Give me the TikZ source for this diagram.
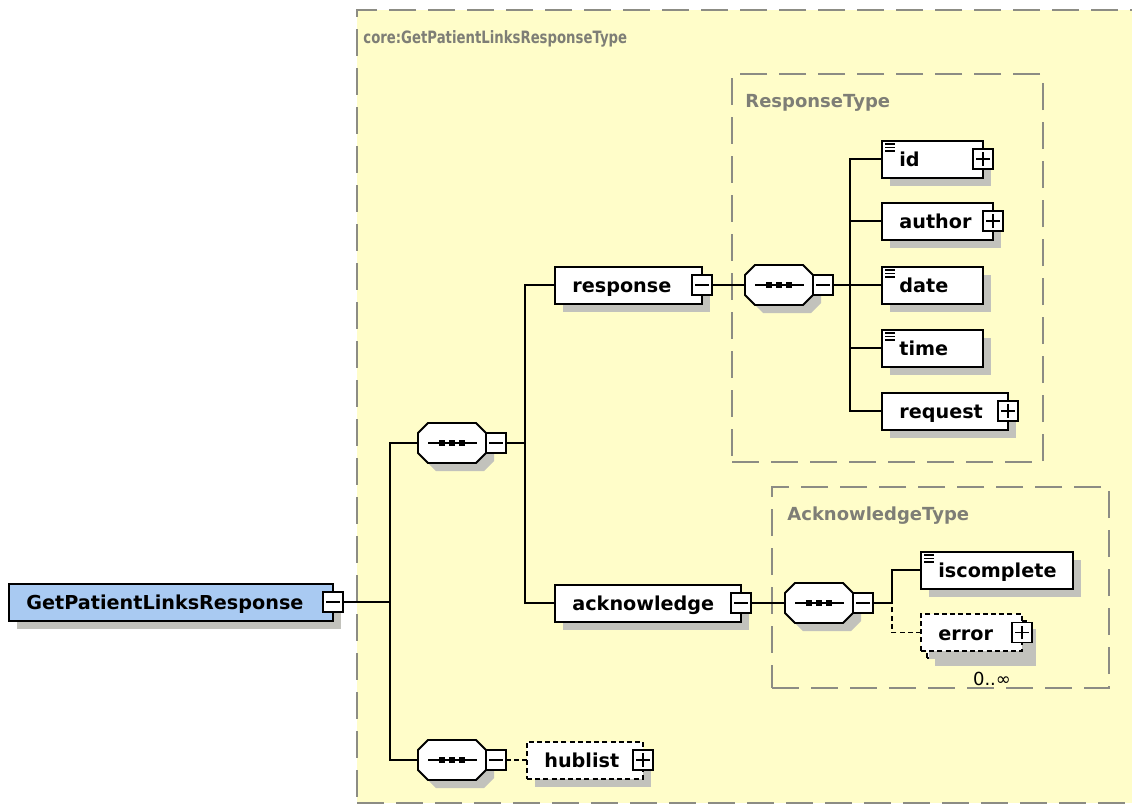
\documentclass[tikz,border=0pt]{standalone}
\usepackage{fontspec}
\setmainfont{DejaVu Sans}
\usepackage{graphicx}
\definecolor{paper}{HTML}{FFFDC9}
\definecolor{shadowc}{HTML}{C2C2BC}
\definecolor{framegray}{HTML}{8C8C84}
\definecolor{titlegray}{HTML}{7E7E76}
\definecolor{rootblue}{HTML}{A9CAF2}
\pgfdeclarelayer{back}
\pgfdeclarelayer{wires}
\pgfsetlayers{back,wires,main}

% element box: [extra style]{name}{left}{right}{cy}{label}
\newcommand\elem[6][]{%
  \fill[shadowc] (#3+8,#5-10.5) rectangle (#4+8,#5+26.5);
  \node[ebox,#1,minimum width={(#4-#3)*0.5pt},anchor=west] (#2) at (#3,#5) {};
  \node[lbl,anchor=base west] (#2-t) at (#3+17,#5+7.5) {#6};
}
% simple-type marker in the upper left corner of a box
\newcommand\simpleicon[1]{%
  \foreach \k in {0,1,2}{\draw[line width=0.7pt] ([shift={(3,3.5+3.5*\k)}]#1.north west) -- ++(10,0);}
}
% sequence compositor: {name}{cx}{cy}
\newcommand\seqc[3]{%
  \fill[shadowc,shift={(#2+8,#3+8)},octo];
  \node[seqbox] (#1) at (#2,#3) {};
  \draw[line width=0.9pt,fill=white,shift={(#2,#3)},octo];
  \draw[line width=0.9pt] (#2-24,#3) -- (#2+25,#3);
  \foreach \d in {-10,0,10}{\fill (#2+\d-3,#3-3) rectangle (#2+\d+3,#3+3);}
  \node[minusx] (#1-x) at (#2+44,#3) {};
}

\begin{document}
\begin{tikzpicture}[x=0.5pt,y=-0.5pt,
  ebox/.style={draw,line width=1pt,fill=white,inner sep=0,outer sep=0,minimum height=18.5pt},
  dbox/.style={dash pattern=on 2.5pt off 1.6pt},
  lbl/.style={font=\bfseries\fontsize{9.6}{11}\selectfont,inner sep=0},
  ttl/.style={font=\bfseries\fontsize{9}{11}\selectfont,text=titlegray,inner sep=0,anchor=base west},
  frame/.style={draw=framegray,line width=0.8pt,dash pattern=on 13.5pt off 6pt,inner sep=0,outer sep=0},
  conn/.style={line width=0.85pt},
  dconn/.style={conn,dash pattern=on 2.5pt off 1.6pt},
  expbase/.style={draw,fill=white,line width=0.6pt,minimum size=10pt,inner sep=0,outer sep=0},
  minusx/.style={expbase,path picture={\draw[line width=0.6pt]
      ([xshift=1.6pt]path picture bounding box.west) -- ([xshift=-1.6pt]path picture bounding box.east);}},
  plusx/.style={expbase,path picture={\draw[line width=0.6pt]
      ([xshift=1.6pt]path picture bounding box.west) -- ([xshift=-1.6pt]path picture bounding box.east)
      ([yshift=1.6pt]path picture bounding box.south) -- ([yshift=-1.6pt]path picture bounding box.north);}},
  seqbox/.style={inner sep=0,outer sep=0,minimum width=34pt,minimum height=20pt},
  octo/.style={insert path={(-34,-10) -- (-24,-20) -- (24,-20) -- (34,-10) -- (34,10) -- (24,20) -- (-24,20) -- (-34,10) -- cycle}},
]
\useasboundingbox (0,0) rectangle (1132,809);

% complex type frames
\begin{pgfonlayer}{back}
  \fill[white] (0,0) rectangle (1132,809);
  \node[frame,fill=paper,anchor=north west,minimum width={(1160-357)*0.5pt},minimum height={(803-10)*0.5pt}] (core) at (357,10) {};
  \node[frame,anchor=north west,minimum width={(1043-732)*0.5pt},minimum height={(462-74)*0.5pt}] (rtype) at (732,74) {};
  \node[frame,anchor=north west,minimum width={(1109-772)*0.5pt},minimum height={(688-487)*0.5pt}] (atype) at (772,487) {};
\end{pgfonlayer}
\node[ttl,font=\bfseries\fontsize{8.5}{10}\selectfont] (core-t) at (363,43) {\scalebox{0.78}[1]{core:GetPatientLinksResponseType}};
\node[ttl] (rtype-t) at (745,107) {ResponseType};
\node[ttl] (atype-t) at (787,520) {AcknowledgeType};

% root element
\elem[fill=rootblue]{root}{9}{333}{602}{GetPatientLinksResponse}
\node[minusx] (root-x) at (333,602) {};

% top-level sequences
\seqc{s1}{452}{443}
\seqc{s4}{452}{760}

% response branch
\elem{resp}{555}{702}{285}{response}
\node[minusx] (resp-x) at (702,285) {};
\seqc{s2}{779}{285}
\elem{id}{882}{983}{159}{id}
\simpleicon{id}
\node[plusx] (id-x) at (983,159) {};
\elem{author}{882}{993}{221}{author}
\node[plusx] (author-x) at (993,221) {};
\elem{date}{882}{983}{285}{date}
\simpleicon{date}
\elem{time}{882}{983}{348}{time}
\simpleicon{time}
\elem{request}{882}{1008}{411}{request}
\node[plusx] (request-x) at (1008,411) {};

% acknowledge branch
\elem{ack}{555}{741}{603}{acknowledge}
\node[minusx] (ack-x) at (741,603) {};
\seqc{s3}{819}{603}
\elem{isc}{921}{1073}{570}{iscomplete}
\simpleicon{isc}
% repeating element: two stacked dashed boxes
\fill[shadowc] (935,629) rectangle (1036,666);
\node[ebox,dbox,anchor=north west,minimum width={(1028-927)*0.5pt}] (err-b) at (927,621) {};
\elem[dbox]{err}{921}{1022}{632.5}{error}
\node[plusx] (err-x) at (1022,632.5) {};
\node[inner sep=0,anchor=base,font=\fontsize{9}{11}\selectfont] (err-m) at (992,685) {0..∞};

% optional hublist
\fill[shadowc] (535,749.5) rectangle (651,786.5);
\node[ebox,dbox,anchor=west,minimum width={(643-527)*0.5pt}] (hub) at (527,760) {};
\node[lbl,anchor=base west] (hub-t) at (544,767.5) {hublist};
\node[plusx] (hub-x) at (643,760) {};

% connectors
\begin{pgfonlayer}{wires}
  \coordinate (tr) at (390,602);
  \draw[conn] (root-x.east) -- (tr);
  \draw[conn] (s1.west) -| (tr);
  \draw[conn] (s4.west) -| (tr);
  \coordinate (ja) at (525,443);
  \draw[conn] (s1-x.east) -- (ja);
  \draw[conn] (resp.west) -| (ja);
  \draw[conn] (ack.west) -| (ja);
  \draw[conn] (resp-x.east) -- (s2.west);
  \coordinate (jb) at (850,285);
  \draw[conn] (s2-x.east) -- (date.west);
  \draw[conn] (id.west) -| (jb);
  \draw[conn] (author.west) -| (jb);
  \draw[conn] (time.west) -| (jb);
  \draw[conn] (request.west) -| (jb);
  \draw[conn] (ack-x.east) -- (s3.west);
  \coordinate (jc) at (892,603);
  \draw[conn] (s3-x.east) -- (jc);
  \draw[conn] (isc.west) -| (jc);
  \draw[dconn] (err.west) -| (jc);
  \draw[dconn] (s4-x.east) -- (hub.west);
\end{pgfonlayer}
\end{tikzpicture}
\end{document}
